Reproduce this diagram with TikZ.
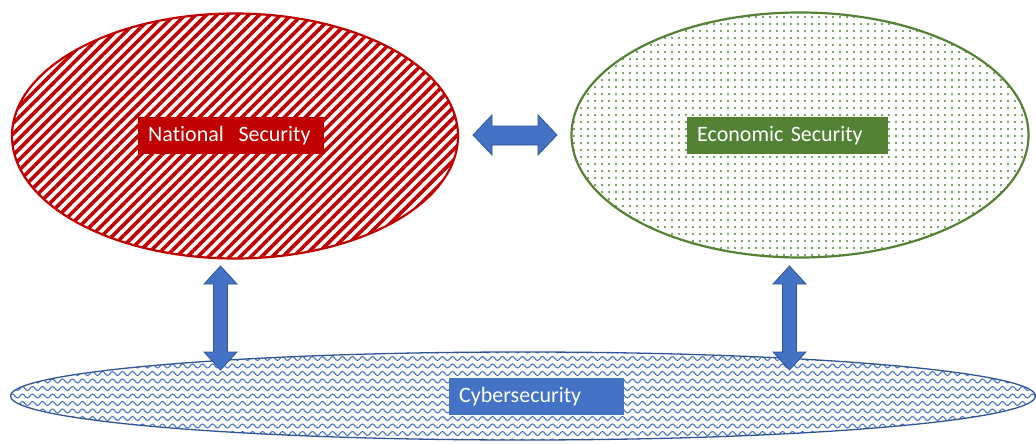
\documentclass[tikz,border=0pt]{standalone}
\usepackage{fontspec}
\setmainfont{Carlito}[Ligatures=NoCommon]
\usetikzlibrary{shapes.geometric,patterns,patterns.meta}
\definecolor{natred}{HTML}{C00000}
\definecolor{ecogreen}{HTML}{548235}
\definecolor{cyblue}{HTML}{4472C4}
\definecolor{cyedge}{HTML}{2F5597}
\pgfdeclarepatternformonly{cwaves}{\pgfqpoint{-1pt}{-1pt}}{\pgfqpoint{11pt}{8.5pt}}{\pgfqpoint{10pt}{7.5pt}}{%
  \pgfsetlinewidth{1.1pt}%
  \pgfpathmoveto{\pgfqpoint{0pt}{3pt}}%
  \pgfpathcurveto{\pgfqpoint{1.8pt}{5.6pt}}{\pgfqpoint{3.2pt}{5.6pt}}{\pgfqpoint{5pt}{3pt}}%
  \pgfpathcurveto{\pgfqpoint{6.8pt}{0.4pt}}{\pgfqpoint{8.2pt}{0.4pt}}{\pgfqpoint{10pt}{3pt}}%
  \pgfusepath{stroke}}
\tikzset{
  blob/.style={ellipse, inner sep=0pt, line width=2.2pt},
  label box/.style={rectangle, text=white, font=\fontsize{22}{26}\selectfont,
    minimum height=37pt, inner xsep=10pt, inner ysep=0pt, align=left},
  bigarrow/.style={fill=cyblue, draw=cyedge, line width=0.8pt, line join=miter},
}
\begin{document}
\begin{tikzpicture}[x=1pt,y=-1pt]
\useasboundingbox (0,0) rectangle (1036,444);
% ellipses
\node[blob, draw=natred, minimum width=446pt, minimum height=245pt,
  pattern={Lines[angle=45,distance=7.5pt,line width=3.6pt]}, pattern color=natred] (nat) at (235,136) {};
\node[blob, draw=ecogreen, minimum width=457pt, minimum height=245pt,
  pattern={Dots[distance=7pt,radius=1.2pt]}, pattern color=ecogreen] (eco) at (800,135) {};
\node[blob, draw=cyedge, line width=1.3pt, minimum width=1025pt, minimum height=88pt,
  pattern=cwaves, pattern color=cyblue] (cyb) at (523,396) {};
% labels
\node[label box, fill=natred, text width=166pt, anchor=north west] (natl) at (138,117) {National\ \ Security};
\node[label box, fill=ecogreen, text width=181pt, anchor=north west] (ecol) at (687,117) {Economic Security};
\node[label box, fill=cyblue, text width=155pt, anchor=north west] (cybl) at (449,378) {Cybersecurity};
% horizontal double arrow
\draw[bigarrow] (473,135) -- (492,115) -- (492,126) -- (538,126) -- (538,115) -- (557,135)
  -- (538,155) -- (538,145) -- (492,145) -- (492,155) -- cycle;
% vertical double arrows
\foreach \cx in {220.5,789.5}{
  \draw[bigarrow] (\cx,266) -- (\cx+16.5,284) -- (\cx+7,284) -- (\cx+7,352) -- (\cx+16.5,352)
    -- (\cx,370) -- (\cx-16.5,352) -- (\cx-7,352) -- (\cx-7,284) -- (\cx-16.5,284) -- cycle;
}
\end{tikzpicture}
\end{document}
